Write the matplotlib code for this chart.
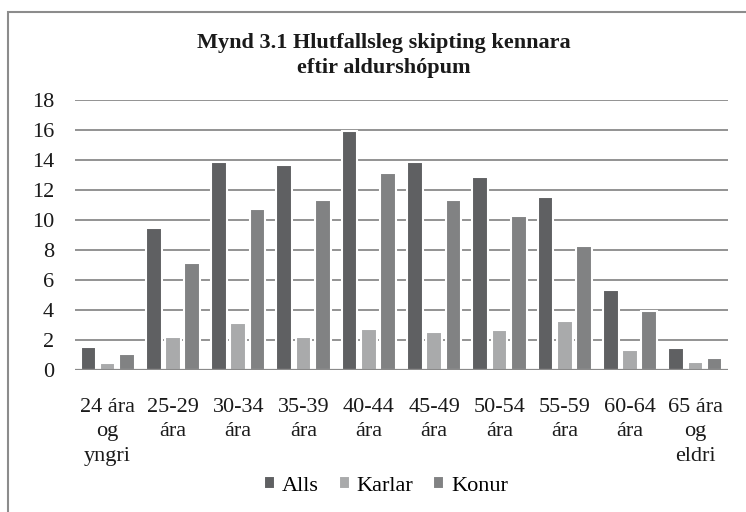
import numpy as np
import matplotlib
matplotlib.use("Agg")
from matplotlib import pyplot as plt
from matplotlib.patches import Rectangle

plt.rcParams['font.family'] = ['Liberation Serif', 'DejaVu Serif']

groups = ["24 ára\nog\nyngri", "25-29\nára", "30-34\nára", "35-39\nára", "40-44\nára",
          "45-49\nára", "50-54\nára", "55-59\nára", "60-64\nára", "65 ára\nog\neldri"]
alls = [1.56, 9.49, 13.89, 13.67, 15.93, 13.89, 12.87, 11.53, 5.33, 1.49]
karlar = [0.44, 2.22, 3.16, 2.22, 2.76, 2.56, 2.69, 3.29, 1.36, 0.56]
konur = [1.07, 7.13, 10.73, 11.33, 13.13, 11.33, 10.27, 8.29, 3.96, 0.82]
series_names = ["Alls", "Karlar", "Konur"]
colors = ["#5f6062", "#a9aaab", "#818283"]

W, H = 746, 512
fig = plt.figure(figsize=(W / 100, H / 100), dpi=100)

# outer chart border (cut off at right and bottom like the source)
fig.patches.append(Rectangle((8 / W, -0.1), 1.2, 1.1 - 12 / H, transform=fig.transFigure,
                             fill=False, edgecolor="#8c8c8c", linewidth=1.5))

ax = fig.add_axes([75 / W, 1 - 370 / H, (728 - 75) / W, 270 / H])
x = np.arange(len(groups))
width = 0.24
step = 0.295
for i, (vals, name, c) in enumerate(zip([alls, karlar, konur], series_names, colors)):
    ax.bar(x + (i - 1) * step, vals, width, color=c, edgecolor="white", linewidth=1.5,
           label=name, zorder=3)

ax.set_xlim(-0.5, len(groups) - 0.5)
ax.set_ylim(0, 18)
ax.set_yticks(range(0, 19, 2))
ax.set_xticks(x)
ax.set_xticklabels(groups, linespacing=1.4)
ax.grid(axis="y", color="#8a8a8a", linewidth=1.3, zorder=0)
for s in ax.spines.values():
    s.set_visible(False)
ax.axhline(0, color="#8a8a8a", linewidth=1.6, zorder=4)
ax.tick_params(axis="both", length=0, labelsize=16, colors="#1a1a1a")
ax.tick_params(axis="y", pad=15)
ax.tick_params(axis="x", pad=20)

fig.text(384 / W, 1 - 55.5 / H, "Mynd 3.1 Hlutfallsleg skipting kennara\neftir aldurshópum",
         ha="center", va="center", fontsize=16, fontweight="bold", linespacing=1.3,
         color="#1a1a1a")

fig.legend(loc="center", bbox_to_anchor=(386 / W, 1 - 486 / H), ncol=3, frameon=False,
           fontsize=16, handlelength=0.5, handleheight=0.5, handletextpad=0.3,
           columnspacing=0.9, borderaxespad=0)

fig.savefig("out.png", dpi=100)
